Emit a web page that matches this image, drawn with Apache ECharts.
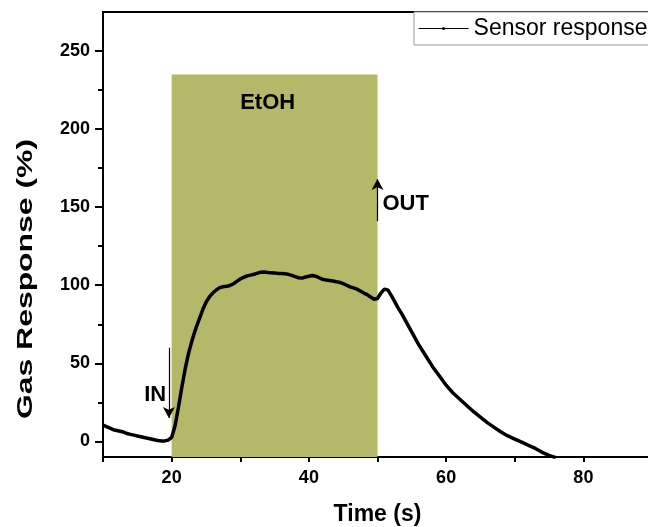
<!DOCTYPE html>
<html>
<head>
<meta charset="utf-8">
<script src="https://cdn.jsdelivr.net/npm/echarts@6/dist/echarts.min.js"></script>
<style>
	html,body{margin:0;padding:0;background:#fff;}
	#main{width:648px;height:527px;}
</style>
</head>
<body>
<div id="main"></div>
<script>
	// time (s) and gas response (%)
	var timeData = [10,10.5,11,11.5,12,12.5,13,13.5,14,14.5,15,15.5,16,16.5,17,17.5,18,18.5,19,19.5,
		20,20.5,21,21.5,22,22.5,23,23.5,24,24.5,25,25.5,26,26.5,27,27.5,28,28.5,29,29.5,
		30,30.5,31,31.5,32,32.5,33,33.5,34,34.5,35,35.5,36,36.5,37,37.5,38,38.5,39,39.5,
		40,40.5,41,41.5,42,42.5,43,43.5,44,44.5,45,45.5,46,46.5,47,47.5,48,48.5,49,49.5,
		50,50.5,51,51.5,52,52.5,53,53.5,54,55,56,57,58,59,60,61,62,63,64,65,66,67,68,69,70,
		71,72,73,74,75,76];
	var responseData = [10.5,9.5,8.5,7.5,7,6.5,6,5,4.5,4,3.5,3,2.5,2,1.5,1,0.5,0.3,0.3,0.8,
		2.5,10,22,35,47,57,65,72,78,84,89,92.5,95,97,98.5,99,99.3,99.8,101,102.5,
		104,105,106,106.5,107,107.8,108.4,108.5,108.2,108,107.8,107.6,107.5,107.3,107,106.3,105.5,104.8,104.6,105.3,
		105.8,106.2,105.8,104.8,103.8,103.3,103,102.7,102.3,101.8,101,100,99,98.3,97.5,96.3,95,94,92.5,91,
		91.5,95,97.5,97,93.5,89.5,85.5,82,78,70,62,55,48,42,36,31,27,23,19,15.5,12,9,6,3.5,1.5,
		-0.5,-2.5,-4.5,-7,-9,-10.5];

	var yMajorTicks = [0,50,100,150,200,250];
	var yMinorTicks = [25,75,125,175,225];
	var xLabelTicks = [20,40,60,80];

	// gas exposure window and annotations
	var gasWindow = [20,50];
	var gasTop = 235;
	var inArrow = [[19.6,60],[19.6,15]];
	var outArrow = [[50,141],[50,168]];
	var gasLabel = {name:'EtOH', coord:[34,217]};
	var inLabel = {name:'IN', coord:[17.6,29.5]};
	var outLabel = {name:'OUT', coord:[54.1,152]};

	var seriesData = [];
	for(var i=0;i<timeData.length;i++){
		seriesData.push([timeData[i],responseData[i]]);
	}

	var font = 'Liberation Sans, Arial, sans-serif';
	var myChart = echarts.init(document.getElementById('main'));
	var option = {
		backgroundColor:'#fff',
		animation:false,
		grid:{
			left:103,
			top:12,
			right:-4,
			bottom:70,
			outerBoundsMode:'none',
			show:true,
			borderColor:'#000',
			borderWidth:2
		},
		legend:{
			left:414,
			top:12,
			padding:[5,30,5,4],
			borderColor:'#999',
			borderWidth:1,
			backgroundColor:'#fff',
			itemWidth:50,
			itemHeight:4,
			itemGap:6,
			lineStyle:{width:1.2},
			textStyle:{fontFamily:font,fontSize:23,color:'#000'},
			data:['Sensor response']
		},
		graphic:[{
			type:'text',
			x:26,
			y:279,
			rotation:Math.PI/2,
			scaleX:1.45,
			style:{
				text:'Gas Response (%)',
				font:'bold 22px ' + font,
				fill:'#000',
				align:'center',
				verticalAlign:'middle'
			}
		}],
		xAxis:{
			type:'value',
			min:10,
			max:90,
			interval:10,
			name:'Time (s)',
			nameLocation:'middle',
			nameGap:46,
			nameTextStyle:{fontFamily:font,fontSize:23,fontWeight:'bold',color:'#000'},
			axisLine:{onZero:false,lineStyle:{color:'#000',width:2}},
			axisTick:{length:5,lineStyle:{color:'#000',width:2}},
			axisLabel:{
				margin:12,
				fontFamily:font,fontSize:18,fontWeight:'bold',color:'#000',
				formatter:function(v){
					return xLabelTicks.indexOf(v)>=0 ? String(v) : '';
				}
			},
			splitLine:{show:false}
		},
		yAxis:[{
			type:'value',
			min:-10,
			max:275,
			axisLine:{show:true,onZero:false,lineStyle:{color:'#000',width:2}},
			axisTick:{show:true,length:8,customValues:yMajorTicks,lineStyle:{color:'#000',width:2}},
			axisLabel:{
				margin:13,customValues:yMajorTicks,
				fontFamily:font,fontSize:18,fontWeight:'bold',color:'#000'
			},
			splitLine:{show:false}
		},{
			type:'value',
			position:'left',
			min:-10,
			max:275,
			axisLine:{show:false,onZero:false},
			axisTick:{show:true,length:5,customValues:yMinorTicks,lineStyle:{color:'#000',width:2}},
			axisLabel:{show:false},
			splitLine:{show:false}
		}],
		series:[{
			name:'Sensor response',
			type:'line',
			yAxisIndex:0,
			data:seriesData,
			symbol:'circle',
			symbolSize:3,
			showSymbol:false,
			lineStyle:{color:'#000',width:3.5},
			itemStyle:{color:'#000'},
			z:5,
			markArea:{
				silent:true,
				itemStyle:{color:'#b5b769'},
				data:[[{xAxis:gasWindow[0],yAxis:'min'},{xAxis:gasWindow[1],yAxis:gasTop}]]
			},
			markLine:{
				silent:true,
				symbol:['none','arrow'],
				symbolSize:[9,11],
				label:{show:false},
				lineStyle:{color:'#000',width:1.2,type:'solid'},
				data:[
					[{coord:inArrow[0]},{coord:inArrow[1]}],
					[{coord:outArrow[0]},{coord:outArrow[1]}]
				]
			},
			markPoint:{
				silent:true,
				symbol:'rect',
				symbolSize:1,
				itemStyle:{color:'rgba(0,0,0,0)'},
				label:{
					show:true,
					position:'inside',
					fontFamily:font,fontSize:22,fontWeight:'bold',color:'#000',
					formatter:function(p){return p.name;}
				},
				data:[gasLabel,inLabel,outLabel]
			}
		}]
	};
	myChart.setOption(option);
</script>
</body>
</html>
